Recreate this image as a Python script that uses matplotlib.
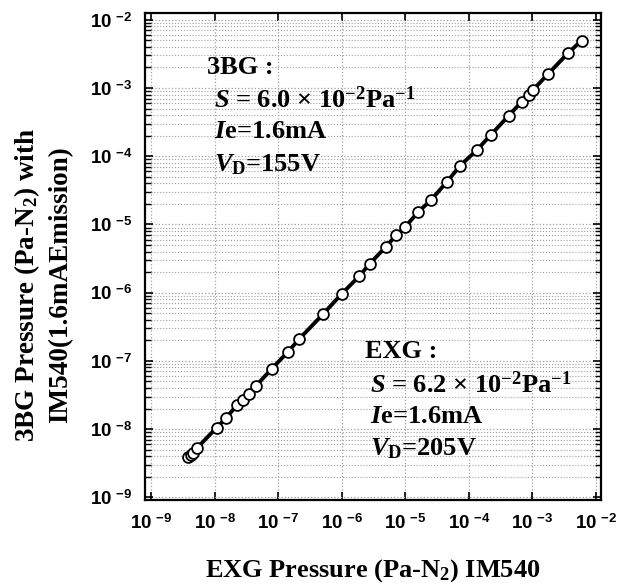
import matplotlib
matplotlib.use("Agg")
import matplotlib.pyplot as plt
from matplotlib.ticker import FixedLocator, FuncFormatter, NullFormatter, NullLocator
import numpy as np

plt.rcParams['mathtext.fontset'] = 'custom'
plt.rcParams['mathtext.rm'] = 'Liberation Serif:bold'
plt.rcParams['mathtext.it'] = 'Liberation Serif:italic:bold'
plt.rcParams['mathtext.bf'] = 'Liberation Sans:bold'

# EXG pressure (Pa-N2), x
exg = [3.8e-9, 4.14e-9, 4.55e-9, 5.26e-9, 1.064e-8, 1.49e-8, 2.24e-8, 2.73e-8,
       3.4e-8, 4.43e-8, 7.82e-8, 1.43e-7, 2.13e-7, 5.08e-7, 1.0e-6, 1.87e-6,
       2.76e-6, 4.93e-6, 7.08e-6, 9.82e-6, 1.59e-5, 2.52e-5, 4.55e-5, 7.2e-5,
       1.32e-4, 2.2e-4, 4.22e-4, 6.76e-4, 8.7e-4, 1.03e-3, 1.77e-3, 3.66e-3, 5.96e-3]
# 3BG pressure (Pa-N2), y
bg3 = [3.92e-9, 4.15e-9, 4.48e-9, 5.3e-9, 1.047e-8, 1.45e-8, 2.24e-8, 2.67e-8,
       3.27e-8, 4.29e-8, 7.6e-8, 1.37e-7, 2.09e-7, 4.87e-7, 9.66e-7, 1.74e-6,
       2.67e-6, 4.7e-6, 6.9e-6, 9.1e-6, 1.52e-5, 2.27e-5, 4.25e-5, 7.2e-5,
       1.22e-4, 2.04e-4, 3.92e-4, 6.3e-4, 7.97e-4, 9.44e-4, 1.61e-3, 3.27e-3, 4.97e-3]

decades = [-9, -8, -7, -6, -5, -4, -3, -2]

xlabel = r'EXG Pressure (Pa-N$_{\mathrm{2}}$) IM540'
ylabel = '3BG Pressure (Pa-N$_{\\mathrm{2}}$) with\nIM540(1.6mAEmission)'
note_3bg = ['3BG :', r'$S$ = 6.0 × 10$^{\mathrm{-2}}$Pa$^{\mathrm{-1}}$',
            r'$I$e=1.6mA', r'$V_{\mathrm{D}}$=155V']
note_exg = ['EXG :', r'$S$ = 6.2 × 10$^{\mathrm{-2}}$Pa$^{\mathrm{-1}}$',
            r'$I$e=1.6mA', r'$V_{\mathrm{D}}$=205V']

fig = plt.figure(figsize=(6.21, 5.83), dpi=100)
ax = fig.add_axes([0.2335, 0.1424, 0.7343, 0.8353])
ax.set_xscale('log')
ax.set_yscale('log')
ax.set_xlim(10**-9.10, 10**-1.92)
ax.set_ylim(10**-9.04, 10**-1.90)

ax.plot(exg, bg3, color='black', lw=2.8, zorder=3)
ax.plot(exg, bg3, linestyle='none', marker='o', ms=7.8, mfc='white',
        mec='black', mew=1.3, zorder=4)

major = [10.0 ** d for d in decades]
minor = [k * 10.0 ** d for d in decades[:-1] for k in range(2, 10)]
ax.xaxis.set_major_locator(FixedLocator(major))
ax.xaxis.set_minor_locator(NullLocator())
ax.yaxis.set_major_locator(FixedLocator(major))
ax.yaxis.set_minor_locator(FixedLocator(minor))
ax.yaxis.set_minor_formatter(NullFormatter())

def fmt(v, pos):
    e = int(round(np.log10(v)))
    return r'$\mathbf{10}\,\,^{\mathbf{%d}}$' % e

ax.xaxis.set_major_formatter(FuncFormatter(fmt))
ax.yaxis.set_major_formatter(FuncFormatter(fmt))

ax.tick_params(which='both', direction='in', top=True, right=True, colors='black')
ax.tick_params(which='major', length=6, width=1.2, labelsize=13.5)
ax.tick_params(which='minor', length=4, width=1.0)
ax.tick_params(axis='x', pad=10)
ax.tick_params(axis='y', pad=9)

ax.grid(True, which='major', axis='both', color='#a0a0a0', linestyle=':', lw=0.9)
ax.grid(True, which='minor', axis='y', color='#a0a0a0', linestyle=':', lw=0.8)
ax.set_axisbelow(True)
for s in ax.spines.values():
    s.set_linewidth(1.6)

ax.set_xlabel(xlabel, family='Liberation Serif', fontweight='bold', fontsize=19, labelpad=17)
ax.set_ylabel(ylabel, family='Liberation Serif', fontweight='bold', fontsize=19.5,
              linespacing=1.3)
ax.yaxis.set_label_coords(-0.158, 0.442)

y0 = 0.889
for i, t in enumerate(note_3bg):
    ax.text(0.136 if i == 0 else 0.151, y0 - i * 0.0665, t, transform=ax.transAxes,
            family='Liberation Serif', fontweight='bold', fontsize=19, va='center')
y1 = 0.304
for i, t in enumerate(note_exg):
    ax.text(0.482 if i == 0 else 0.493, y1 - i * 0.0665, t, transform=ax.transAxes,
            family='Liberation Serif', fontweight='bold', fontsize=19, va='center')

fig.savefig('out.png', dpi=100)
